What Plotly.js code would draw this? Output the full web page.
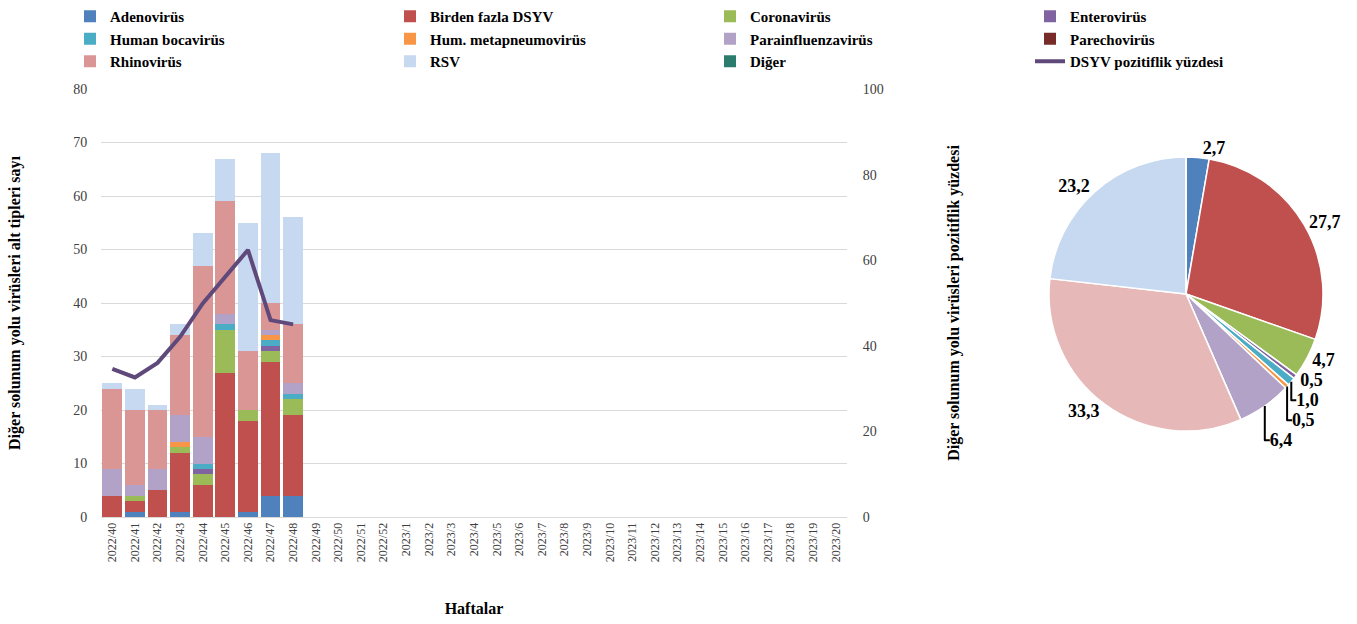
<!DOCTYPE html>
<html><head><meta charset="utf-8">
<script src="https://cdn.plot.ly/plotly-3.0.1.min.js"></script>
<style>html,body{margin:0;padding:0;background:#fff}#c{width:1357px;height:624px}</style>
</head><body><div id="c"></div>
<script>
const weeks = ["2022/40","2022/41","2022/42","2022/43","2022/44","2022/45","2022/46","2022/47","2022/48","2022/49","2022/50","2022/51","2022/52",
"2023/1","2023/2","2023/3","2023/4","2023/5","2023/6","2023/7","2023/8","2023/9","2023/10","2023/11","2023/12","2023/13","2023/14","2023/15","2023/16","2023/17","2023/18","2023/19","2023/20"];
const seriesNames = ["Adenovirüs","Birden fazla DSYV","Coronavirüs","Enterovirüs","Human bocavirüs","Hum. metapneumovirüs","Parainfluenzavirüs","Parechovirüs","Rhinovirüs","RSV","Diğer"];
const adeno   = [0,1,0,1,0,0,1,4,4];
const birden  = [4,2,5,11,6,27,17,25,15];
const corona  = [0,1,0,1,2,8,2,2,3];
const entero  = [0,0,0,0,1,0,0,1,0];
const boca    = [0,0,0,0,1,1,0,1,1];
const hmpv    = [0,0,0,1,0,0,0,1,0];
const para    = [5,2,4,5,5,2,0,1,2];
const parecho = [0,0,0,0,0,0,0,0,0];
const rhino   = [15,14,11,15,32,21,11,5,11];
const rsv     = [1,4,1,2,6,8,24,28,20];
const diger   = [0,0,0,0,0,0,0,0,0];
const positivity = [34.6,32.6,36.0,42.1,49.9,56.1,62.4,46.0,45.0];
const lineName = "DSYV pozitiflik yüzdesi";

const seriesData = [adeno,birden,corona,entero,boca,hmpv,para,parecho,rhino,rsv,diger];
const colors = ["#4F81BD","#C0504D","#9BBB59","#8064A2","#4BACC6","#F79646","#B3A2C7","#772C2A","#DA9694","#C6D9F1","#2C7C6E"];
const pieColors = ["#4F81BD","#C0504D","#9BBB59","#8064A2","#4BACC6","#F79646","#B3A2C7","#772C2A","#E6B9B8","#C6D9F1","#2C7C6E"];

const W = 1357, H = 624;
const serif = "Liberation Serif, Times New Roman, serif";
const nWeeks = adeno.length;
const xw = weeks.slice(0, nWeeks);

const traces = seriesNames.map((n,i)=>({
  type:'bar', name:n, x:xw, y:seriesData[i], marker:{color:colors[i], line:{width:0}},
  xaxis:'x', yaxis:'y', hoverinfo:'skip'
}));
traces.push({type:'scatter', mode:'lines', name:lineName, x:xw, y:positivity,
  line:{color:'#5F497A', width:4}, xaxis:'x', yaxis:'y2', hoverinfo:'skip'});

const totals = seriesData.map(a=>a.reduce((s,v)=>s+v,0));
const grand = totals.reduce((s,v)=>s+v,0);
const pieText = totals.map(v=> v>0 ? (v/grand*100).toFixed(1).replace('.',',') : '');
traces.push({type:'pie', values:totals, labels:seriesNames, text:pieText, textinfo:'text',
  textposition:'outside', sort:false, direction:'clockwise', rotation:0, showlegend:false,
  marker:{colors:pieColors, line:{color:'#fff', width:1.5}},
  textfont:{family:serif, size:18, color:'#000', weight:'bold'},
  outsidetextfont:{family:serif, size:18, color:'#000', weight:'bold'},
  domain:{x:[1049/W,1323/W], y:[(H-431)/H,(H-157)/H]}, hoverinfo:'skip'});

const layout = {
  width:W, height:H, margin:{l:0,r:0,t:0,b:0}, paper_bgcolor:'#fff', plot_bgcolor:'#fff',
  barmode:'stack', bargap:0.12, showlegend:true,
  font:{family:serif, color:'#404040'},
  legend:{orientation:'h', x:70/W, y:1, xanchor:'left', yanchor:'top', entrywidth:275, entrywidthmode:'pixels',
    bgcolor:'rgba(0,0,0,0)', font:{family:serif, size:15, color:'#000', weight:'bold'}, traceorder:'normal', itemwidth:30, tracegroupgap:0},
  xaxis:{domain:[101/W,847/W], type:'category', categoryorder:'array', categoryarray:weeks, range:[-0.5,weeks.length-0.5],
    tickmode:'array', tickvals:weeks, ticktext:weeks, tickangle:-90, tickfont:{family:serif,size:12,color:'#404040'},
    showline:true, linecolor:'#D9D9D9', linewidth:1, showgrid:false, ticks:'', automargin:false,
    title:{text:'Haftalar', font:{family:serif,size:16,color:'#000',weight:'bold'}, standoff:41}},
  yaxis:{domain:[(H-517)/H,(H-89)/H], range:[0,80], dtick:10, showgrid:true, gridcolor:'#D9D9D9', gridwidth:1,
    zeroline:false, showline:false, ticks:'outside', ticklen:10, tickcolor:'rgba(0,0,0,0)', tickfont:{family:serif,size:14,color:'#404040'}, automargin:false,
    title:{text:'Diğer solunum yolu virüsleri alt tipleri sayı', font:{family:serif,size:16,color:'#000',weight:'bold'}, standoff:48}},
  yaxis2:{overlaying:'y', side:'right', anchor:'x', range:[0,100], dtick:20, showgrid:false, zeroline:false,
    ticks:'outside', ticklen:12, tickcolor:'rgba(0,0,0,0)', tickfont:{family:serif,size:14,color:'#404040'}, automargin:false,
    title:{text:'Diğer solunum yolu virüsleri pozitiflik yüzdesi', font:{family:serif,size:16,color:'#000',weight:'bold'}, standoff:65}}
};
Plotly.newPlot('c', traces, layout, {displayModeBar:false, staticPlot:true});
</script></body></html>
